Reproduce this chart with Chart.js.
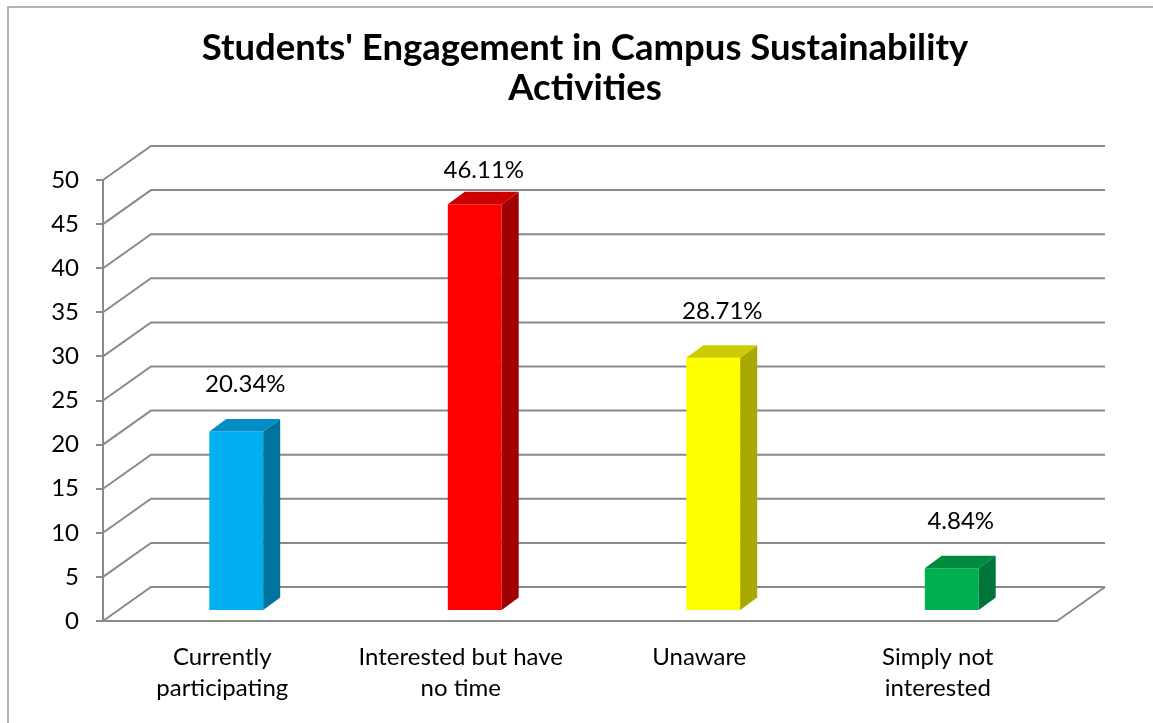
<!DOCTYPE html>
<html>
<head>
<meta charset="utf-8">
<script src="https://cdn.jsdelivr.net/npm/chart.js@4.4.0/dist/chart.umd.min.js"></script>
<style>
  html, body { margin: 0; padding: 0; background: #fff; }
</style>
</head>
<body>
<canvas id="chart1" width="1153" height="723"></canvas>
<script>
// data
var categories = [['Currently', 'participating'], ['Interested but have', 'no time'], ['Unaware'], ['Simply not', 'interested']];
var shares = [20.34, 46.11, 28.71, 4.84];
var shareLabels = ['20.34%', '46.11%', '28.71%', '4.84%'];
var titleLines = ["Students' Engagement in Campus Sustainability", 'Activities'];

var frontColors = ['#00B0F0', '#FF0000', '#FFFF00', '#00B050'];
var topColors = ['#008CC4', '#CC0000', '#CCCC00', '#008A3E'];
var sideColors = ['#00729E', '#A00000', '#A8A800', '#00753A'];

var gridColor = '#8a8a8a';
var font = 'Lato';

// depth of the back wall, bar offset and bar depth
var WALL_DX = 48, WALL_DY = -34;
var BAR_DX = 14, BAR_DY = -10;
var SIDE_DX = 17, SIDE_DY = -12.5;

var box3d = {
	id: 'box3d',
	beforeDraw: function(chart) {
		var ctx = chart.ctx;
		ctx.save();
		ctx.fillStyle = '#fff';
		ctx.fillRect(0, 0, chart.width, chart.height);
		ctx.strokeStyle = '#9a9a9a';
		ctx.lineWidth = 1.5;
		ctx.strokeRect(8, 7, chart.width + 20, chart.height + 20);
		ctx.restore();
	},
	beforeDatasetsDraw: function(chart) {
		var ctx = chart.ctx, a = chart.chartArea, y = chart.scales.y;
		ctx.save();
		ctx.strokeStyle = gridColor;
		ctx.lineWidth = 2;
		ctx.beginPath();
		y.ticks.forEach(function(t) {
			var py = y.getPixelForValue(t.value);
			ctx.moveTo(a.left, py);
			ctx.lineTo(a.left + WALL_DX, py + WALL_DY);
			ctx.lineTo(a.right + WALL_DX, py + WALL_DY);
		});
		// floor right edge
		var p0 = y.getPixelForValue(0);
		ctx.moveTo(a.right, p0);
		ctx.lineTo(a.right + WALL_DX, p0 + WALL_DY);
		ctx.stroke();
		ctx.restore();

		ctx.save();
		ctx.translate(BAR_DX, BAR_DY);
	},
	afterDatasetsDraw: function(chart) {
		var ctx = chart.ctx;
		ctx.restore();
		var meta = chart.getDatasetMeta(0);
		ctx.save();
		meta.data.forEach(function(el, i) {
			var xl = el.x - el.width / 2 + BAR_DX, xr = el.x + el.width / 2 + BAR_DX;
			var yt = el.y + BAR_DY, yb = el.base + BAR_DY;
			// side
			ctx.fillStyle = sideColors[i];
			ctx.beginPath();
			ctx.moveTo(xr, yt);
			ctx.lineTo(xr + SIDE_DX, yt + SIDE_DY);
			ctx.lineTo(xr + SIDE_DX, yb + SIDE_DY);
			ctx.lineTo(xr, yb);
			ctx.closePath();
			ctx.fill();
			// top
			ctx.fillStyle = topColors[i];
			ctx.beginPath();
			ctx.moveTo(xl, yt);
			ctx.lineTo(xl + SIDE_DX, yt + SIDE_DY);
			ctx.lineTo(xr + SIDE_DX, yt + SIDE_DY);
			ctx.lineTo(xr, yt);
			ctx.closePath();
			ctx.fill();
			// value label
			ctx.fillStyle = '#000';
			ctx.font = '24px ' + font;
			ctx.textAlign = 'center';
			ctx.textBaseline = 'middle';
			var ly = Math.max(el.y - 57, chart.chartArea.top - 10);
			ctx.fillText(shareLabels[i], el.x + 23, ly);
		});
		ctx.restore();
	}
};

var ctx = document.getElementById('chart1').getContext('2d');
var myChart = new Chart(ctx, {
	type: 'bar',
	data: {
		labels: categories,
		datasets: [{
			label: 'Share',
			data: shares,
			backgroundColor: frontColors,
			borderWidth: 0,
			barPercentage: 0.226,
			categoryPercentage: 1
		}]
	},
	options: {
		responsive: false,
		animation: false,
		layout: {
			padding: { left: 17, right: 0, top: 0, bottom: 0 }
		},
		plugins: {
			legend: { display: false },
			tooltip: { enabled: false },
			title: {
				display: true,
				text: titleLines,
				color: '#000',
				font: { family: font, size: 36.5, weight: 'bold', lineHeight: 1.096 },
				padding: { top: 28, bottom: 72 }
			}
		},
		scales: {
			x: {
				grid: { display: false },
				border: { display: true, color: gridColor, width: 2 },
				ticks: {
					color: '#000',
					padding: 13,
					maxRotation: 0,
					font: { family: font, size: 24, lineHeight: 1.29 }
				},
				afterFit: function(scale) { scale.height = 102; }
			},
			y: {
				min: 0,
				max: 50,
				ticks: {
					stepSize: 5,
					color: '#000',
					padding: 17,
					font: { family: font, size: 24 }
				},
				grid: {
					drawOnChartArea: false,
					drawTicks: true,
					tickLength: 7,
					color: gridColor,
					lineWidth: 2
				},
				border: { display: true, color: gridColor, width: 2 },
				afterFit: function(scale) { scale.width = 86; }
			},
			// empty right axis, only reserves the room the back wall needs
			yRight: {
				position: 'right',
				grid: { display: false },
				border: { display: false },
				ticks: { display: false },
				afterFit: function(scale) { scale.width = 96; }
			}
		}
	},
	plugins: [box3d]
});
</script>
</body>
</html>
